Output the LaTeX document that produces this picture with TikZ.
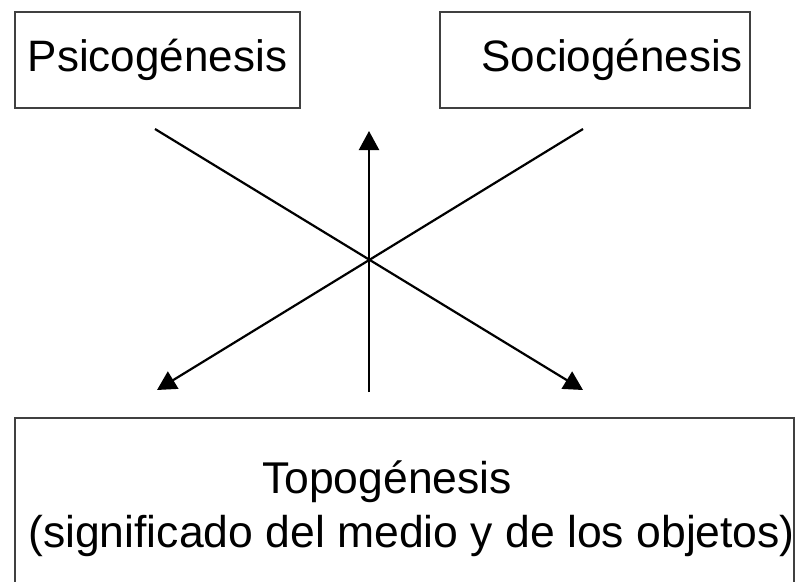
\documentclass[tikz,border=0pt]{standalone}
\usepackage{fontspec}
\setmainfont{Liberation Sans}
\usetikzlibrary{arrows.meta}

\begin{document}
\begin{tikzpicture}[x=1pt, y=-1pt,
  box/.style={rectangle, draw=black!75, line width=2pt, minimum height=96pt,
    inner xsep=7pt, font=\fontsize{44}{53}\selectfont},
  label/.style={inner sep=0pt, anchor=base west, font=\fontsize{44.5}{54}\selectfont},
  link/.style={line width=2.2pt, -{Triangle[length=19pt, width=20pt]}}]
\useasboundingbox (0,0) rectangle (797,581);

\node[box, anchor=north west, minimum width=285pt] (psico) at (14,11) {Psicogénesis};
\node[box, anchor=north west, text width=296pt, align=right] (socio) at (439,11) {Sociogénesis};

\node[box, anchor=north west, minimum width=779pt, minimum height=190pt] (topo) at (14,417) {};
\node[label] (topotit) at (262,493) {Topogénesis};
\node[label] (topodesc) at (28,547) {(significado del medio y de los objetos)};

% free ends of the arrows
\coordinate (psicoend) at (155,129);
\coordinate (socioend) at (583,129);
\coordinate (leftend) at (157,390);
\coordinate (rightend) at (583,390);
\coordinate (upfoot) at (369,392);
\coordinate (uptip) at (369,131);

\draw[link] (psicoend) -- (rightend);
\draw[link] (socioend) -- (leftend);
\draw[link] (upfoot) -- (uptip);

\end{tikzpicture}
\end{document}
